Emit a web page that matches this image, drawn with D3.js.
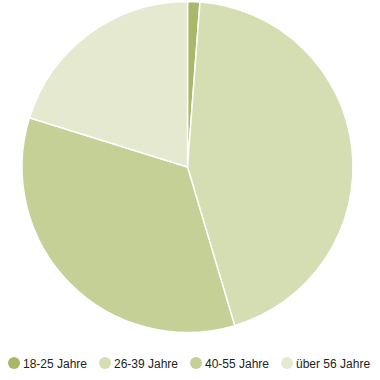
<!DOCTYPE html>
<html><head><meta charset="utf-8">
<script src="https://cdn.jsdelivr.net/npm/d3@7"></script>
<style>html,body{margin:0;padding:0;background:#fff;}</style>
</head><body>
<svg id="c" width="380" height="380"></svg>
<script>
const categories = ["18-25 Jahre", "26-39 Jahre", "40-55 Jahre", "über 56 Jahre"];
const values = [1.2, 44.2, 34.4, 20.2];
const colors = ["#a8b868", "#d5ddb2", "#c5d096", "#e5e9cf"];

const svg = d3.select("#c");
const cx = 187.5, cy = 167, r = 165.5;
const pie = d3.pie().sort(null).value(d => d)(values);
const arc = d3.arc().innerRadius(0).outerRadius(r);
const color = d3.scaleOrdinal().domain(categories).range(colors);

svg.append("g").attr("transform", `translate(${cx},${cy})`)
  .selectAll("path").data(pie).join("path")
  .attr("d", arc)
  .attr("fill", (d, i) => color(categories[i]))
  .attr("stroke", "#fff").attr("stroke-width", 1.5).attr("stroke-linejoin", "round");

const legendX = [14, 105, 196, 287];
const lg = svg.append("g").selectAll("g").data(categories).join("g")
  .attr("transform", (d, i) => `translate(${legendX[i]},363)`);
lg.append("circle").attr("r", 6).attr("fill", d => color(d));
lg.append("text").attr("x", 9).attr("y", 4.5)
  .attr("font-family", "Liberation Sans, Arial, sans-serif").attr("font-size", 12)
  .attr("fill", "#222").text(d => d);
</script>
</body></html>
